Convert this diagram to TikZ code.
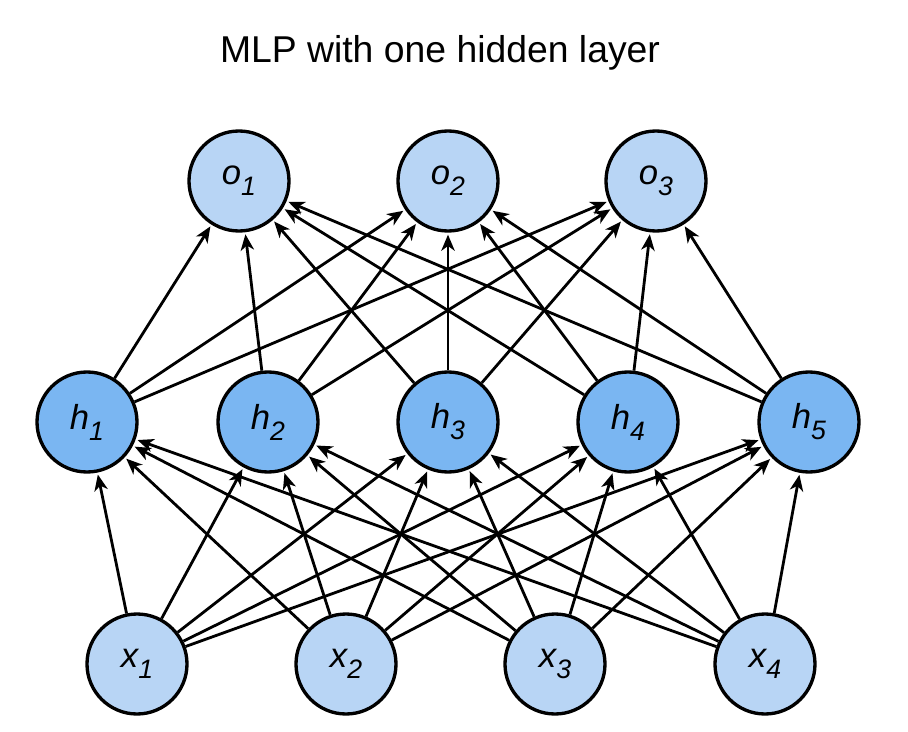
\documentclass[tikz,border=0pt]{standalone}
\usepackage{fontspec}
\setmainfont{Liberation Sans}
\usetikzlibrary{arrows.meta,positioning,calc}

\definecolor{lightnode}{HTML}{B8D5F5}
\definecolor{hiddennode}{HTML}{7AB6F2}

% node label: italic letter with a lowered index
\newcommand{\unitlabel}[2]{%
    {\itshape #1\raisebox{-0.32em}{\fontsize{20}{22}\selectfont #2}}%
}

\begin{document}
\begin{tikzpicture}[x=0.75pt,y=-0.75pt,
    unit/.style={circle,draw=black,line width=2.5pt,minimum size=75pt,
        inner sep=0pt,font=\fontsize{26}{30}\selectfont},
    inunit/.style={unit,fill=lightnode},
    hidunit/.style={unit,fill=hiddennode},
    outunit/.style={unit,fill=lightnode},
    link/.style={line width=2.1pt,
        -{Stealth[length=12pt,width=10pt,inset=3.5pt]},shorten >=1.5pt}]

    \useasboundingbox (0,0) rectangle (908,732);

    % title
    \node[anchor=base,font=\fontsize{28}{34}\selectfont] (title) at (440,62)
        {MLP with one hidden layer};

    % ---- input layer ----
    \foreach \i/\px in {1/137,2/346,3/555,4/765} {
        \node[inunit] (x\i) at (\px,664) {\unitlabel{x}{\i}};
    }

    % ---- hidden layer ----
    \foreach \i/\px in {1/87,2/268,3/448,4/628,5/809} {
        \node[hidunit] (h\i) at (\px,422) {\unitlabel{h}{\i}};
    }

    % ---- output layer ----
    \foreach \i/\px in {1/239,2/448,3/656} {
        \node[outunit] (o\i) at (\px,181) {\unitlabel{o}{\i}};
    }

    % inputs -> hidden
    \foreach \i in {1,...,4} {
        \foreach \j in {1,...,5} {
            \draw[link] (x\i) -- (h\j);
        }
    }

    % hidden -> outputs
    \foreach \j in {1,...,5} {
        \foreach \k in {1,...,3} {
            \draw[link] (h\j) -- (o\k);
        }
    }

\end{tikzpicture}
\end{document}
